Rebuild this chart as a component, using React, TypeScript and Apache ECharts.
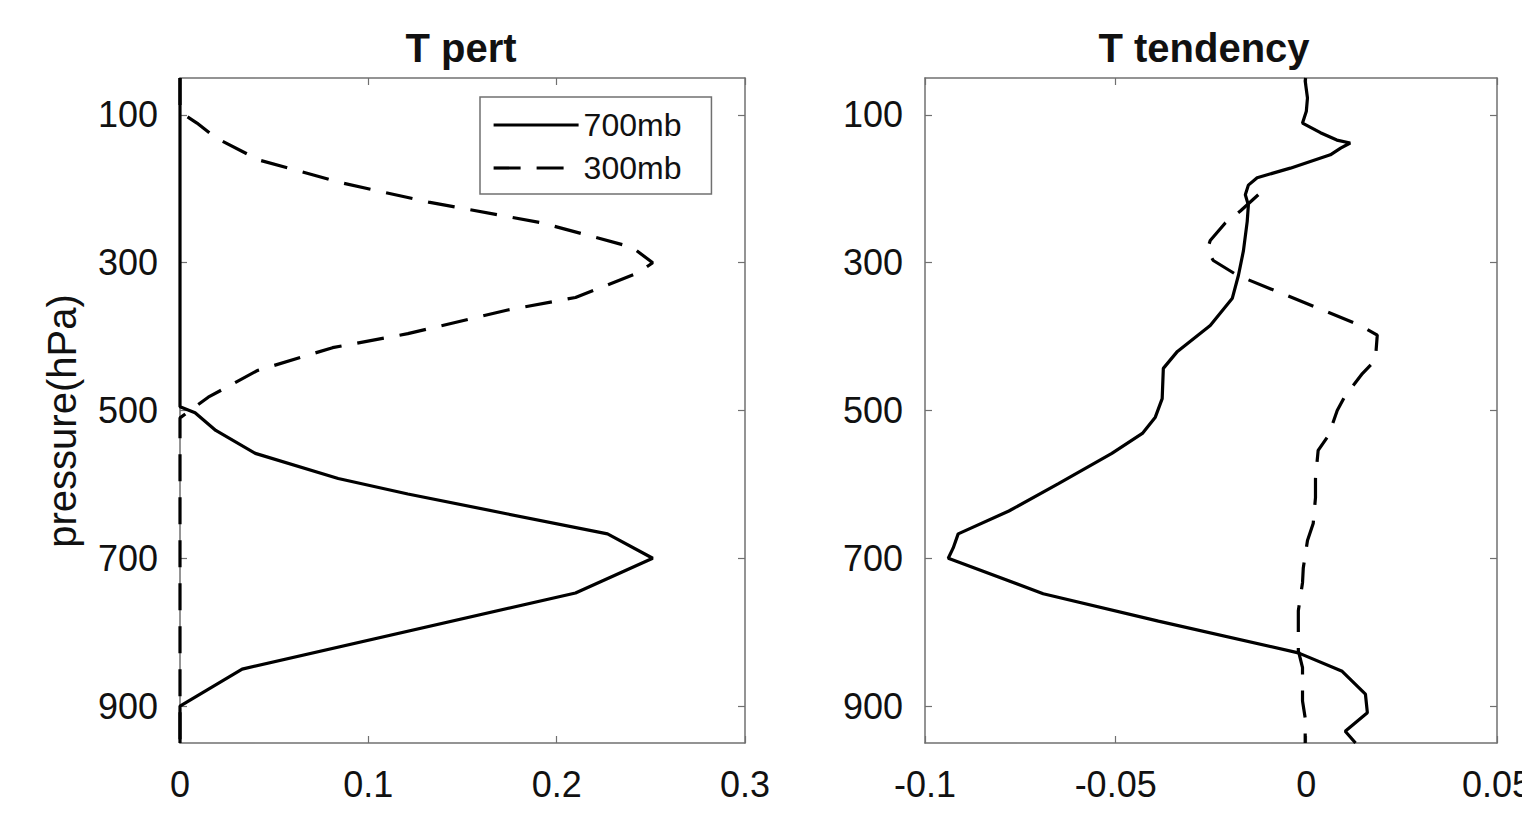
import React, { useEffect, useRef } from "react";
import * as echarts from "echarts";

// ---------- data ----------
const pressureTicks = [100, 300, 500, 700, 900];
const pressureMin = 50;
const pressureMax = 950;

// Left panel: T pert
const pert700P = [50, 495, 503, 527, 558, 592, 613, 640, 667, 700, 747, 850, 900, 950];
const pert700V = [0, 0, 0.008, 0.019, 0.04, 0.084, 0.121, 0.174, 0.227, 0.251, 0.21, 0.033, 0, 0];

const pert300P = [50, 96, 111, 131, 161, 192, 218, 246, 279, 300, 314, 347, 364, 396, 415, 446, 482, 510, 950];
const pert300V = [0, 0, 0.009, 0.019, 0.042, 0.086, 0.132, 0.192, 0.24, 0.251, 0.243, 0.21, 0.174, 0.121, 0.081, 0.041, 0.015, 0, 0];

// Right panel: T tendency
const tend700P = [50, 54, 77, 95, 111, 124, 134, 138, 145, 154, 172, 185, 195, 208, 222, 244, 284, 317, 348, 385, 420, 443, 484, 509, 531, 558, 599, 636, 667, 686, 700, 748, 785, 828, 853, 884, 909, 934, 950];
const tend700V = [-0.0002, -0.0003, 0.0003, 0, -0.001, 0.0037, 0.008, 0.0115, 0.009, 0.0063, -0.0042, -0.0129, -0.0152, -0.016, -0.0152, -0.0155, -0.0165, -0.0178, -0.0194, -0.0252, -0.0338, -0.0375, -0.0378, -0.0396, -0.043, -0.051, -0.065, -0.078, -0.0913, -0.0926, -0.0939, -0.069, -0.0388, -0.0021, 0.0094, 0.0155, 0.016, 0.0102, 0.0129];

const tend300P = [208, 230, 246, 270, 283, 297, 317, 385, 398, 432, 450, 480, 500, 534, 554, 592, 618, 653, 676, 713, 733, 771, 798, 825, 848, 893, 916, 950];
const tend300V = [-0.0126, -0.0173, -0.0212, -0.0252, -0.026, -0.0244, -0.0181, 0.0142, 0.0186, 0.0181, 0.0147, 0.0102, 0.0081, 0.0058, 0.0031, 0.0024, 0.0024, 0.0018, 0.0003, -0.0008, -0.001, -0.0021, -0.0021, -0.0021, -0.001, -0.001, -0.0003, -0.0003];

const seriesNames = ["700mb", "300mb"];
const titles = ["T pert", "T tendency"];
const yAxisName = "pressure(hPa)";

// ---------- styles ----------
const FONT = '"Liberation Sans", Arial, Helvetica, sans-serif';
const AXIS_COLOR = "#707070";
const TEXT_COLOR = "#111";
const DASH = [27, 16];
const LINE_W = 3.2;

const zip = (v: number[], p: number[]) => v.map((x, i) => [x, p[i]]);

function xAxes(gridIndex: number, min: number, max: number, interval: number) {
  const common = {
    type: "value",
    gridIndex,
    min,
    max,
    interval,
    splitLine: { show: false },
    axisLine: { show: true, onZero: false, lineStyle: { color: AXIS_COLOR, width: 1.5 } },
    axisTick: { show: true, inside: true, length: 7, lineStyle: { color: AXIS_COLOR, width: 1.2 } },
  };
  return [
    {
      ...common,
      position: "bottom",
      axisLabel: {
        show: true,
        margin: 23,
        fontSize: 36,
        fontFamily: FONT,
        color: TEXT_COLOR,
        formatter: (v: number) => String(Math.round(v * 1000) / 1000),
      },
    },
    { ...common, position: "top", axisLabel: { show: false } },
  ];
}

function yAxes(gridIndex: number) {
  const common = {
    type: "value",
    gridIndex,
    min: pressureMin,
    max: pressureMax,
    inverse: true,
    splitLine: { show: false },
    axisLine: { show: true, onZero: false, lineStyle: { color: AXIS_COLOR, width: 1.5 } },
    axisTick: {
      show: true,
      inside: true,
      length: 7,
      customValues: pressureTicks,
      lineStyle: { color: AXIS_COLOR, width: 1.2 },
    },
  };
  return [
    {
      ...common,
      position: "left",
      axisLabel: {
        show: true,
        margin: 22,
        fontSize: 36,
        fontFamily: FONT,
        color: TEXT_COLOR,
        customValues: pressureTicks,
        padding: [12, 0, 0, 0],
      },
    },
    { ...common, position: "right", axisLabel: { show: false } },
  ];
}

function lineSeries(name: string, xi: number, yi: number, data: number[][], dashed: boolean) {
  return {
    type: "line",
    name,
    xAxisIndex: xi,
    yAxisIndex: yi,
    data,
    symbol: "none",
    showSymbol: false,
    silent: true,
    z: 3,
    lineStyle: { color: "#000", width: LINE_W, type: dashed ? DASH : "solid" },
    itemStyle: { color: "#000" },
  };
}

export default function App() {
  const ref = useRef<HTMLDivElement>(null);

  useEffect(() => {
    if (!ref.current) return;
    const chart = echarts.init(ref.current, undefined, { renderer: "svg" });
    const option = {
      animation: false,
      backgroundColor: "#fff",
      title: [
        {
          text: titles[0],
          left: 456,
          top: 23,
          textAlign: "center",
          textStyle: { fontSize: 40, fontWeight: "bold", fontFamily: FONT, color: TEXT_COLOR },
        },
        {
          text: titles[1],
          left: 1199,
          top: 23,
          textAlign: "center",
          textStyle: { fontSize: 40, fontWeight: "bold", fontFamily: FONT, color: TEXT_COLOR },
        },
      ],
      legend: {
        data: seriesNames,
        orient: "vertical",
        left: 480,
        top: 97,
        padding: [12, 30, 10, 12],
        itemWidth: 85,
        itemHeight: 14,
        itemGap: 11,
        borderColor: AXIS_COLOR,
        borderWidth: 1.5,
        backgroundColor: "#fff",
        selectedMode: false,
        itemStyle: { opacity: 0, borderWidth: 0 },
        lineStyle: { width: LINE_W },
        textStyle: { fontSize: 32, fontFamily: FONT, color: TEXT_COLOR },
      },
      graphic: [
        {
          type: "text",
          x: 62,
          y: 421,
          rotation: Math.PI / 2,
          style: {
            text: yAxisName,
            fontSize: 40,
            fontFamily: FONT,
            fill: TEXT_COLOR,
            align: "center",
            verticalAlign: "middle",
          },
        },
      ],
      grid: [
        { left: 180, top: 78, width: 565, height: 665, outerBoundsMode: "none", containLabel: false },
        { left: 925, top: 78, width: 572, height: 665, outerBoundsMode: "none", containLabel: false },
      ],
      xAxis: [...xAxes(0, 0, 0.3, 0.1), ...xAxes(1, -0.1, 0.05, 0.05)],
      yAxis: [...yAxes(0), ...yAxes(1)],
      series: [
        lineSeries(seriesNames[0], 0, 0, zip(pert700V, pert700P), false),
        lineSeries(seriesNames[1], 0, 0, zip(pert300V, pert300P), true),
        lineSeries(seriesNames[0], 2, 2, zip(tend700V, tend700P), false),
        lineSeries(seriesNames[1], 2, 2, zip(tend300V, tend300P), true),
      ],
    };
    chart.setOption(option as any);
    return () => chart.dispose();
  }, []);

  return (
    <div
      ref={ref}
      style={{ position: "absolute", left: 0, top: 0, width: 1522, height: 815, background: "#fff", overflow: "hidden" }}
    />
  );
}
